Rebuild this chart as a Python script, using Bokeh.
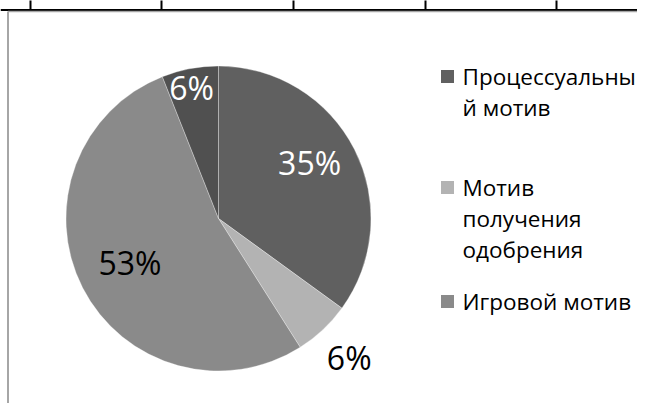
import math
from bokeh.plotting import figure
from bokeh.models import Range1d, ColumnDataSource
from bokeh.core.properties import value
from bokeh.embed import file_html
from bokeh.resources import INLINE

# ---- data ----
slice_values = [35, 6, 53, 6]
slice_labels = ["35%", "6%", "53%", "6%"]
slice_colors = ["#606060", "#b3b3b3", "#8a8a8a", "#505050"]
legend_lines = [["Процессуальны", "й мотив"], ["Мотив", "получения", "одобрения"], ["Игровой мотив"]]
legend_colors = ["#606060", "#b3b3b3", "#8a8a8a"]

W, H = 637, 403
p = figure(width=W, height=H, output_backend="svg", toolbar_location=None,
           x_range=Range1d(0, W), y_range=Range1d(0, H),
           x_axis_location=None, y_axis_location=None, min_border=0,
           background_fill_color="white", border_fill_color="white")
p.grid.visible = False
p.outline_line_color = None

def fx(px):
    return px
def fy(py):
    return H - py

# ---- table lines at the top ----
p.segment(x0=[0], y0=[fy(9.5)], x1=[W], y1=[fy(9.5)], line_color="black", line_width=2)
tick_x = [fx(v) for v in (30, 161, 293, 425, 556)]
p.segment(x0=tick_x, y0=[fy(9.5)] * 5, x1=tick_x, y1=[H + 2] * 5, line_color="black", line_width=2)
# chart area border (gray, top & left)
p.segment(x0=[fx(7.5)], y0=[fy(11)], x1=[W], y1=[fy(11)], line_color="#a6a6a6", line_width=1.5)
p.segment(x0=[fx(7.5)], y0=[fy(11)], x1=[fx(7.5)], y1=[0], line_color="#a6a6a6", line_width=2)

# ---- pie ----
cx, cy, r = fx(218), fy(218), 152.5
total = float(sum(slice_values))
starts, ends, mids = [], [], []
acc = 0.0
for v in slice_values:
    a0 = acc / total
    acc += v
    a1 = acc / total
    starts.append(math.pi / 2 - a0 * 2 * math.pi)
    ends.append(math.pi / 2 - a1 * 2 * math.pi)
    mids.append((a0 + a1) / 2 * 2 * math.pi)  # clockwise from top

src = ColumnDataSource(dict(start=starts, end=ends, color=slice_colors))
p.wedge(x=cx, y=cy, radius=r, start_angle="start", end_angle="end", direction="clock",
        fill_color="color", line_color="white", line_width=0.8, line_alpha=0.4, source=src)

# data labels
lab_r = [107, 191, 99, 134]
lab_dtheta = [-4.6, 0.0, 0.5, -0.8]
lab_colors = ["white", "black", "black", "white"]
lx, ly = [], []
for m, rr, dt in zip(mids, lab_r, lab_dtheta):
    t = m + math.radians(dt)
    lx.append(cx + rr * math.sin(t))
    ly.append(cy + rr * math.cos(t))
p.text(x=lx, y=ly, text=slice_labels, text_color=lab_colors, text_font=value("Open Sans"),
       text_font_size="32px", text_align="center", text_baseline="middle")

# ---- legend ----
leg_top = [76, 187, 301]
line_h = 31
sq_x, sq_y = [], []
tx, ty, tt = [], [], []
for lines, top in zip(legend_lines, leg_top):
    sq_x.append(fx(447))
    sq_y.append(fy(top))
    for i, s in enumerate(lines):
        tx.append(fx(462))
        ty.append(fy(top + i * line_h))
        tt.append(s)
p.rect(x=sq_x, y=sq_y, width=13, height=13, fill_color=legend_colors, line_color=None)
p.text(x=tx, y=ty, text=tt, text_color="black", text_font=value("Open Sans"),
       text_font_size="22.5px", text_align="left", text_baseline="middle")

open("out.html", "w").write(file_html(p, INLINE))
